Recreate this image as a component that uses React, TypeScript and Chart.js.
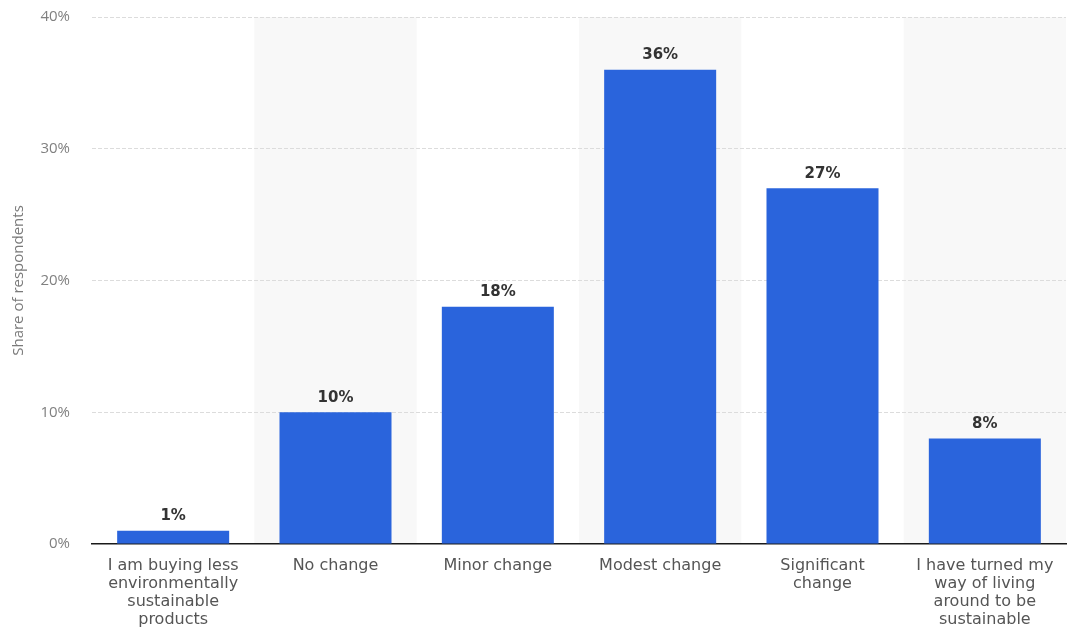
import React, { useEffect, useRef } from "react";
import { Chart, registerables } from "chart.js";

Chart.register(...registerables);

const categories: string[][] = [
  ["I am buying less", "environmentally", "sustainable", "products"],
  ["No change"],
  ["Minor change"],
  ["Modest change"],
  ["Significant", "change"],
  ["I have turned my", "way of living", "around to be", "sustainable"],
];

const shares: number[] = [1, 10, 18, 36, 27, 8];

const yTicks: number[] = [0, 10, 20, 30, 40];

const BAR_COLOR = "#2a64dc";
const LABEL_FONT = "'DejaVu Sans', Verdana, sans-serif";

// Alternating light bands behind every second category (drawn before the grid)
const bandPlugin = {
  id: "bands",
  beforeDraw(chart: any) {
    const { ctx, chartArea, scales } = chart;
    const x = scales.x;
    const n = categories.length;
    const step = (chartArea.right - chartArea.left) / n;
    ctx.save();
    ctx.fillStyle = "#f8f8f8";
    for (let i = 1; i < n; i += 2) {
      const cx = x.getPixelForValue(i);
      ctx.fillRect(cx - step / 2, chartArea.top, step, chartArea.bottom - chartArea.top);
    }
    ctx.restore();
  },
};

// Value labels above each bar
const valueLabelPlugin = {
  id: "valueLabels",
  afterDatasetsDraw(chart: any) {
    const { ctx } = chart;
    const meta = chart.getDatasetMeta(0);
    ctx.save();
    ctx.font = `bold 15px ${LABEL_FONT}`;
    ctx.fillStyle = "#333333";
    ctx.textAlign = "center";
    ctx.textBaseline = "bottom";
    meta.data.forEach((bar: any, i: number) => {
      ctx.fillText(`${shares[i]}%`, bar.x, bar.y - 7);
    });
    ctx.restore();
  },
};

// Rotated y-axis title
const yTitlePlugin = {
  id: "yTitle",
  afterDraw(chart: any) {
    const { ctx, chartArea } = chart;
    ctx.save();
    ctx.translate(19, (chartArea.top + chartArea.bottom) / 2);
    ctx.rotate(-Math.PI / 2);
    ctx.font = `15px 'Open Sans', sans-serif`;
    ctx.fillStyle = "#7a7a7a";
    ctx.textAlign = "center";
    ctx.textBaseline = "middle";
    ctx.fillText("Share of respondents", 0, 0);
    ctx.restore();
  },
};

export default function App() {
  const canvasRef = useRef<HTMLCanvasElement | null>(null);

  useEffect(() => {
    document.body.style.margin = "0";
    const canvas = canvasRef.current;
    if (!canvas) return;
    const chart = new Chart(canvas, {
      type: "bar",
      data: {
        labels: categories,
        datasets: [
          {
            data: shares,
            backgroundColor: BAR_COLOR,
            borderWidth: 0,
            categoryPercentage: 1,
            barPercentage: 0.69,
          },
        ],
      },
      options: {
        animation: false,
        responsive: false,
        maintainAspectRatio: false,
        layout: { padding: { top: 17, right: 3, left: 0, bottom: 0 } },
        plugins: {
          legend: { display: false },
          tooltip: { enabled: false },
        },
        scales: {
          x: {
            grid: { display: false, drawTicks: false },
            border: { display: true, color: "#1a1a1a", width: 1.5 },
            ticks: {
              color: "#555555",
              font: { family: LABEL_FONT, size: 16, lineHeight: 1.125 },
              padding: 13,
              maxRotation: 0,
              autoSkip: false,
            },
            afterFit(scale: any) {
              scale.height = 86;
            },
          },
          y: {
            min: 0,
            max: 40,
            afterBuildTicks(scale: any) {
              scale.ticks = yTicks.map((v) => ({ value: v }));
            },
            grid: {
              drawTicks: false,
              color: (c: any) => (c.tick && c.tick.value === 0 ? "rgba(0,0,0,0)" : "#dcdcdc"),
              lineWidth: 1,
            },
            border: { display: false, dash: [4, 2] },
            ticks: {
              color: "#808080",
              font: { family: "'Open Sans', sans-serif", size: 15 },
              padding: 22,
              callback: (v: any) => `${v}%`,
            },
            afterFit(scale: any) {
              scale.width = 92;
              scale.paddingTop = 0;
              scale.paddingBottom = 0;
            },
          },
        },
      },
      plugins: [bandPlugin, valueLabelPlugin, yTitlePlugin],
    });
    return () => chart.destroy();
  }, []);

  return (
    <div style={{ position: "absolute", left: 0, top: 0, width: 1069, height: 630, background: "#ffffff" }}>
      <canvas ref={canvasRef} width={1069} height={630} style={{ width: 1069, height: 630 }} />
    </div>
  );
}
